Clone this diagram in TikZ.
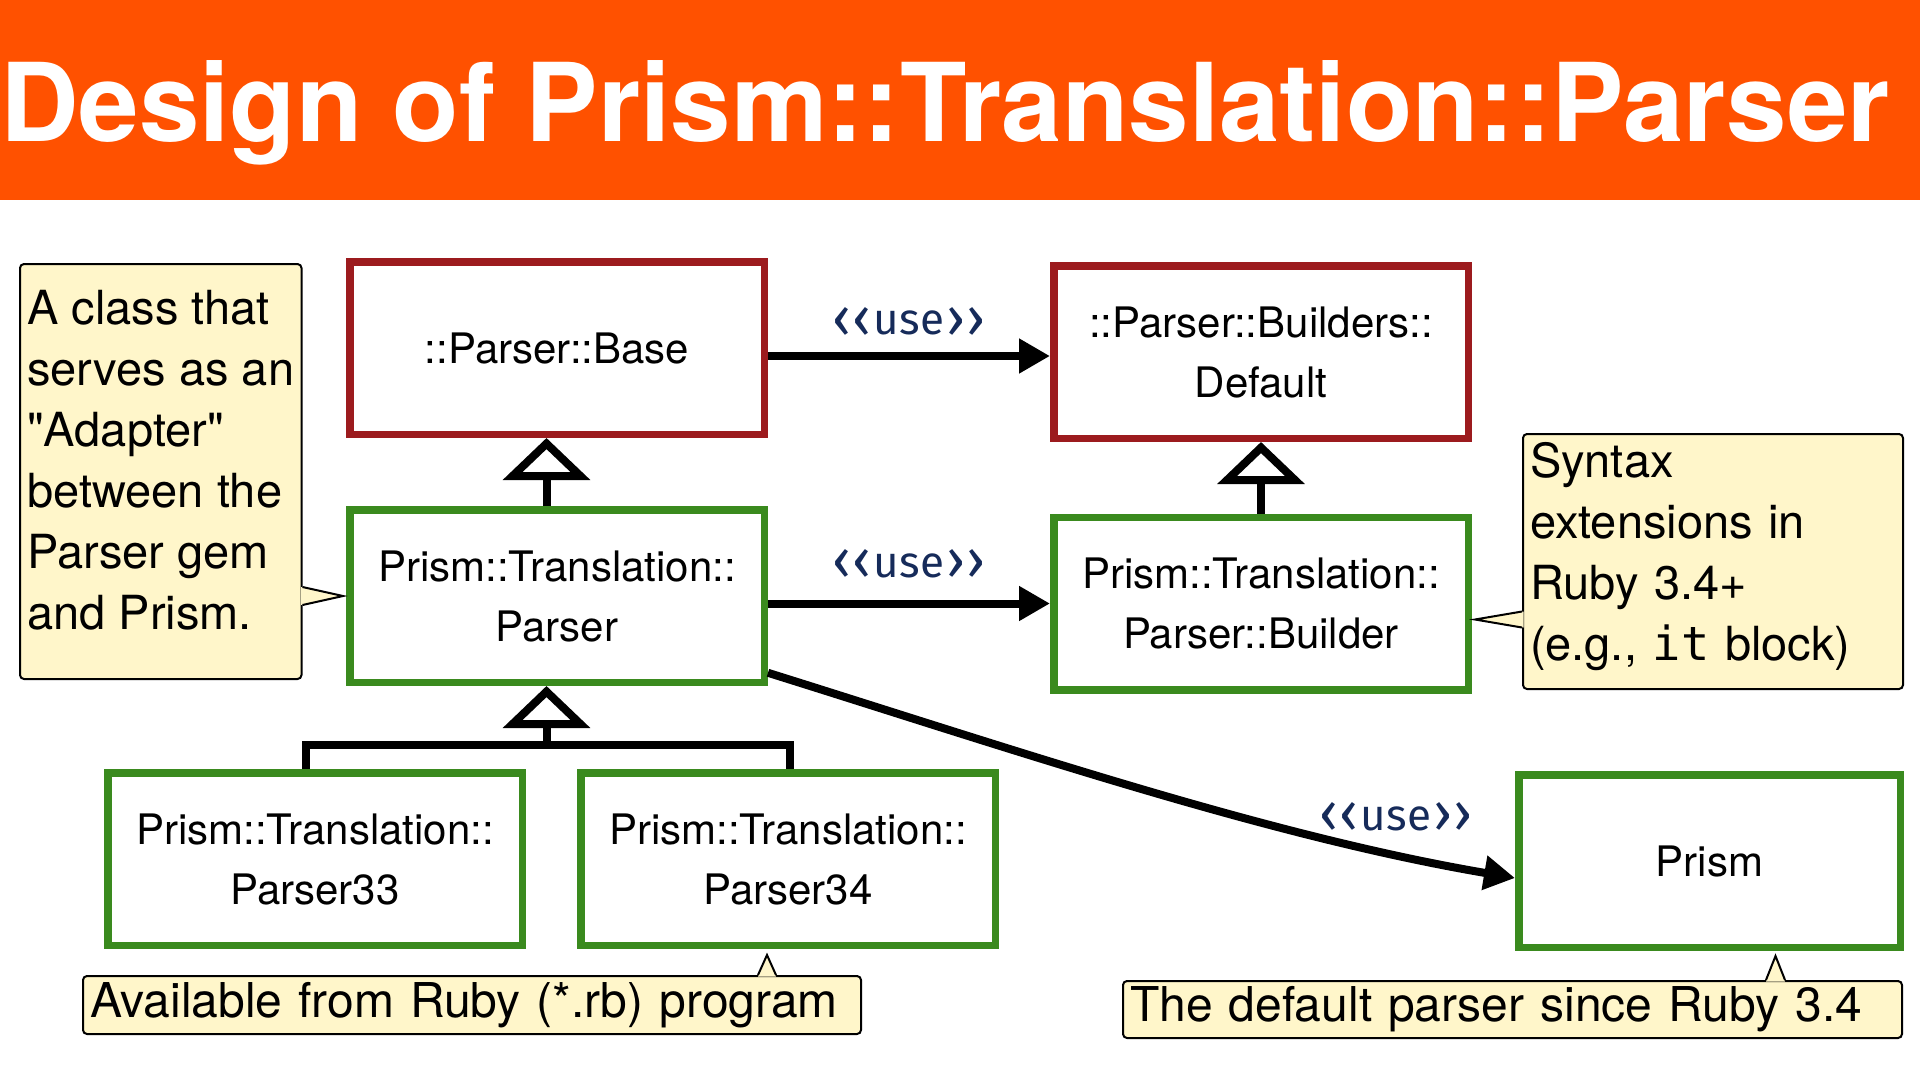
\documentclass[tikz,border=0pt]{standalone}
\usepackage{fontspec}
\setmainfont{TeX Gyre Heros}
\newfontfamily\plainheros{TeX Gyre Heros}
\newfontfamily\stereofont{Fira Sans}
\newfontfamily\codefont{DejaVu Sans Mono}
\usetikzlibrary{arrows.meta,calc}
\definecolor{titlebg}{RGB}{255,81,0}
\definecolor{boxred}{RGB}{156,27,30}
\definecolor{boxgreen}{RGB}{58,138,30}
\definecolor{notefill}{RGB}{255,246,202}
\definecolor{usenavy}{RGB}{22,43,90}
\newcommand{\chevl}{\raisebox{-2.5pt}{\fontsize{56}{50}\selectfont ‹}}
\newcommand{\chevr}{\raisebox{-2.5pt}{\fontsize{56}{50}\selectfont ›}}
\newcommand{\uselabel}{\chevl\kern1pt\chevl\kern2pt{}use\kern2pt\chevr\kern1pt\chevr}
\tikzset{
  titletext/.style={anchor=base west, inner sep=0pt, text=white, font=\fontsize{108.7}{112}\selectfont\bfseries},
  cls/.style={draw, line width=7.5pt, fill=white, minimum width=414.5pt, minimum height=172.5pt,
    inner sep=0pt, align=center, font=\fontsize{42}{60}\selectfont},
  redcls/.style={cls, draw=boxred},
  greencls/.style={cls, draw=boxgreen},
  note/.style={draw=black, line width=2pt, fill=notefill, rounded corners=4pt,
    inner xsep=7pt, inner ysep=0pt, align=left, font=\plainheros\fontsize{47}{61}\selectfont},
  pointerfill/.style={fill=notefill},
  pointerline/.style={draw=black, line width=2pt, line join=miter},
  conn/.style={line width=8pt, black},
  usearrow/.style={conn, -{Triangle[length=31pt,width=33pt]}},
  gen/.style={conn, line join=miter, -{Triangle[open,length=42pt,width=86pt]}},
  stereo/.style={text=usenavy, inner sep=0pt, font=\stereofont\fontsize{44}{50}\selectfont},
}
\begin{document}
\begin{tikzpicture}[x=1pt,y=-1pt]
\useasboundingbox (0,0) rectangle (1920,1080);
\fill[white] (0,0) rectangle (1920,1080);
\fill[titlebg] (0,0) rectangle (1920,200);
\node[titletext] (title) at (0,141) {Design of Prism::Translation::Parser};

% notes
\node[note, minimum width=281.5pt, minimum height=415pt] (noteA) at (160.75,471.5)
  {A class that\\serves as an\\"Adapter"\\between the\\Parser gem\\and Prism.\rule[-24pt]{0pt}{24pt}};
\node[note, text width=366pt, minimum height=255pt] (noteB) at (1713,561.5)
  {Syntax\\extensions in\\Ruby 3.4+\\(e.g., {\codefont it} block)\rule[-21pt]{0pt}{21pt}};
\node[note, text width=764pt, minimum height=58pt, font=\plainheros\fontsize{48}{58}\selectfont] (noteC) at (472,1005)
  {Available from Ruby (*.rb) program};
\node[note, text width=765pt, minimum height=57pt, font=\plainheros\fontsize{48}{58}\selectfont] (noteD) at (1512.5,1009.5)
  {The default parser since Ruby 3.4};

% classes
\node[redcls] (base) at (557,348) {::Parser::Base};
\node[redcls] (default) at (1261,352) {::Parser::Builders::\\Default};
\node[greencls] (parser) at (557,596) {Prism::Translation::\\Parser};
\node[greencls] (builder) at (1261,603.5) {Prism::Translation::\\Parser::Builder};
\node[greencls] (p33) at (315,859) {Prism::Translation::\\Parser33};
\node[greencls] (p34) at (788,859) {Prism::Translation::\\Parser34};
\node[greencls, minimum width=381.5pt] (prism) at (1709.5,861) {Prism};

% callout pointers
\coordinate (tipA) at ($(parser.west)+(-3,0)$);
\fill[pointerfill] ($(noteA.east |- tipA)+(-1.5,-9)$) -- (tipA) -- ($(noteA.east |- tipA)+(-1.5,9)$) -- cycle;
\draw[pointerline] ($(noteA.east |- tipA)+(0,-9)$) -- (tipA) -- ($(noteA.east |- tipA)+(0,9)$);

\coordinate (tipB) at ($(builder.east)+(3,16)$);
\fill[pointerfill] ($(noteB.west |- tipB)+(1.5,-8)$) -- (tipB) -- ($(noteB.west |- tipB)+(1.5,8)$) -- cycle;
\draw[pointerline] ($(noteB.west |- tipB)+(0,-8)$) -- (tipB) -- ($(noteB.west |- tipB)+(0,8)$);

\coordinate (tipC) at ($(p34.south)+(-21,6)$);
\fill[pointerfill] ($(tipC |- noteC.north)+(-9,1.5)$) -- (tipC) -- ($(tipC |- noteC.north)+(9,1.5)$) -- cycle;
\draw[pointerline] ($(tipC |- noteC.north)+(-9,0)$) -- (tipC) -- ($(tipC |- noteC.north)+(9,0)$);

\coordinate (tipD) at ($(prism.south)+(66,5)$);
\fill[pointerfill] ($(tipD |- noteD.north)+(-9.5,1.5)$) -- (tipD) -- ($(tipD |- noteD.north)+(9.5,1.5)$) -- cycle;
\draw[pointerline] ($(tipD |- noteD.north)+(-9.5,0)$) -- (tipD) -- ($(tipD |- noteD.north)+(9.5,0)$);

% use arrows
\coordinate (ya) at (0,356);
\draw[usearrow] (base.east |- ya) -- (default.west |- ya)
  node[midway, stereo, above=15pt] (use1) {\uselabel};
\draw[usearrow] (parser.east |- builder.west) -- (builder.west)
  node[midway, stereo, above=20pt] (use2) {\uselabel};
\draw[usearrow] (parser.-20) .. controls (1015,750) and (1268,836) .. (prism.185)
  node[pos=0.84, stereo, above=18pt] (use3) {\uselabel};

% generalizations
\coordinate (gx) at (546.5,0);
\draw[gen] (parser.north -| gx) -- (base.south -| gx);
\draw[gen] (builder.north) -- (default.south);
\coordinate (jn) at (546.5,745);
\coordinate (legL) at (306,745);
\coordinate (legR) at (790,745);
\draw[conn, line join=miter] (p33.north -| legL) -- (legL) -- (legR) -- (p34.north -| legR);
\draw[gen] (jn) -- (parser.south -| jn);
\end{tikzpicture}
\end{document}
